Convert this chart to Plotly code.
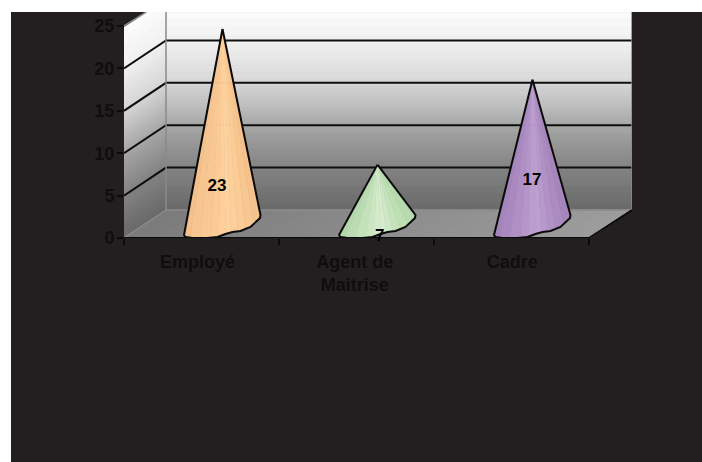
import plotly.graph_objects as go

# ---- data ----
categories = ["Employé", "Agent de<br>Maitrise", "Cadre"]
values = [23, 7, 17]
label_x = [0.1, 1.15, 2.132]
label_heights = [6.1, 0.12, 6.7]
y_ticks = [0, 5, 10, 15, 20, 25]

# ---- style ----
W, H = 702, 462
L, R, T, B = 124, 632, 12, 238          # plot box in pixels
PX_PER_V = 8.48
PX_PER_CAT = 155.0
DX, DY = 42, 28                         # 3-D depth of the back wall in px
BG = "#231f20"
INK = "#0f0d0e"
FONT = "Liberation Sans, Arial, sans-serif"
CAT_TICK_POS = [0, 1.015, 2.03]

cone_shades = [
    ["#f0bb86", "#f4c08b", "#f7c590", "#f9c892", "#fbcb95", "#fdcf9a", "#fed29e", "#fdd09b", "#fbcc96", "#f8c791", "#f5c28c", "#f2be88"],
    ["#aed4a6", "#b4d9ac", "#bbdcb2", "#c3e1ba", "#cce6c2", "#d4eaca", "#d5ebcb", "#cee7c4", "#c6e2bc", "#bedeb4", "#b7dbae", "#b0d6a8"],
    ["#a07fb6", "#a584bb", "#aa89c0", "#af8fc4", "#b596c9", "#bb9dce", "#bd9fd0", "#b899cc", "#b192c6", "#ab8bc1", "#a685bc", "#a180b7"],
]
# outline of a cone's foot in px relative to its centre (right = +, down = +)
foot_dx = [-38.5, -37, -30, -15, -5, 3, 10, 18, 28, 37.5, 38]
foot_dy = [11, 13, 14, 14, 13, 10, 8, 7, 3, -6, -9]

x_min = -0.5
x_max = x_min + (R - L) / PX_PER_CAT
y_max = (B - T) / PX_PER_V
depth_x = DX / PX_PER_CAT
depth_y = DY / PX_PER_V


def gray(v):
    stops = [(0, 0x6a), (5, 0x84), (10, 0xa8), (15, 0xd8), (20, 0xf2), (25, 0xff), (30, 0xff)]
    for (a, ca), (b, cb) in zip(stops, stops[1:]):
        if a <= v <= b:
            c = round(ca + (cb - ca) * (v - a) / (b - a))
            return f"rgb({c},{c},{c})"
    return "#ffffff"


shapes = [dict(type="rect", xref="paper", yref="paper", layer="below",
               x0=(11 - L) / (R - L), x1=(W - L) / (R - L),
               y0=(B - H) / (B - T), y1=(B - 12) / (B - T),
               fillcolor=BG, line_width=0)]

STEP = 0.25
n = int(25 / STEP)
for i in range(n):
    v0, v1 = i * STEP, (i + 1) * STEP
    col = gray(v0)
    # back wall
    shapes.append(dict(type="rect", layer="below", x0=x_min + depth_x, x1=x_max,
                       y0=v0 + depth_y, y1=v1 + depth_y, fillcolor=col,
                       line=dict(color=col, width=1)))
    # side wall
    xa, xb = x_min, x_min + depth_x
    shapes.append(dict(type="path", layer="below",
                       path=f"M{xa},{v0} L{xb},{v0 + depth_y} L{xb},{v1 + depth_y} L{xa},{v1} Z",
                       fillcolor=col, line=dict(color=col, width=1)))
# floor: lighter towards the right
front_w = (R - L - DX) / PX_PER_CAT
slices = 30
for i in range(slices):
    x0 = x_min + front_w * i / slices
    x1 = x_min + front_w * (i + 1) / slices
    c = round(0x7c + (0x9c - 0x7c) * i / (slices - 1))
    col = f"rgb({c},{c},{c})"
    shapes.append(dict(type="path", layer="below",
                       path=f"M{x0},0 L{x1},0 L{x1 + depth_x},{depth_y} L{x0 + depth_x},{depth_y} Z",
                       fillcolor=col, line=dict(color=col, width=1)))

fig = go.Figure()

# grid lines
gx, gy = [], []
for v in y_ticks[1:]:
    gx += [x_min, x_min + depth_x, x_max, None]
    gy += [v, v + depth_y, v + depth_y, None]
fig.add_trace(go.Scatter(x=gx, y=gy, mode="lines", line=dict(color="#0e0e0e", width=2), hoverinfo="skip"))

# wall edges
fig.add_trace(go.Scatter(
    x=[x_min, x_min + depth_x, x_max, x_max, None, x_min + depth_x, x_min + depth_x, None, x_min, x_min + 22 / PX_PER_CAT],
    y=[0, depth_y, depth_y, y_max, None, depth_y, y_max, None, 25, 25 + 14 / PX_PER_V],
    mode="lines", line=dict(color="#8a8a8a", width=1.5), hoverinfo="skip"))
# front floor edge
fig.add_trace(go.Scatter(
    x=[x_min, 2.5, x_max], y=[0, 0, depth_y], mode="lines",
    line=dict(color="#0a0a0a", width=2), hoverinfo="skip"))

# cones
mid_x, mid_y = depth_x / 2, depth_y / 2
for i, v in enumerate(values):
    cx = i + mid_x
    apex_y = v + mid_y
    fx = [cx + d / PX_PER_CAT for d in foot_dx]
    fy = [mid_y - d / PX_PER_V for d in foot_dy]
    sx, sy = [], []
    m = 12
    for k in range(m + 1):
        t = k / m * (len(fx) - 1)
        j = min(int(t), len(fx) - 2)
        f = t - j
        sx.append(fx[j] + (fx[j + 1] - fx[j]) * f)
        sy.append(fy[j] + (fy[j + 1] - fy[j]) * f)
    for k in range(m):
        fig.add_trace(go.Scatter(
            x=[cx, sx[k], sx[k + 1], cx], y=[apex_y, sy[k], sy[k + 1], apex_y],
            mode="lines", fill="toself", fillcolor=cone_shades[i][k],
            line=dict(color=cone_shades[i][k], width=0.5), hoverinfo="skip"))
    fig.add_trace(go.Scatter(
        x=[cx] + fx + [cx], y=[apex_y] + fy + [apex_y], mode="lines",
        line=dict(color="#0a0a0a", width=2), hoverinfo="skip"))

# value labels
fig.add_trace(go.Scatter(
    x=label_x, y=label_heights, mode="text", cliponaxis=False,
    text=[str(v) for v in values], textposition="middle center",
    textfont=dict(family=FONT, size=17, color="#000000", weight="bold"),
    hoverinfo="skip"))

fig.update_layout(
    width=W, height=H, showlegend=False, autosize=False,
    paper_bgcolor="#ffffff", plot_bgcolor="rgba(0,0,0,0)",
    margin=dict(l=L, r=W - R, t=T, b=H - B, pad=0),
    shapes=shapes,
    xaxis=dict(type="linear", range=[x_min, x_max], showgrid=False, zeroline=False, showline=False,
               tickmode="array", tickvals=CAT_TICK_POS, ticktext=categories, ticks="",
               ticklabelshift=-4, ticklabelstandoff=11,
               tickfont=dict(family=FONT, size=18, color=INK, weight="bold"),
               minor=dict(tickmode="array", tickvals=[-0.5, 0.5, 1.5, 2.5], ticks="outside",
                          ticklen=6, tickwidth=1.5, tickcolor="#0a0a0a", showgrid=False)),
    yaxis=dict(range=[0, y_max], showgrid=False, zeroline=False, showline=False,
               tickmode="array", tickvals=y_ticks, ticks="outside", ticklen=6, tickwidth=1.5,
               tickcolor="#0a0a0a", ticklabelstandoff=-1,
               tickfont=dict(family=FONT, size=18, color=INK, weight="bold")),
)

fig.write_html("out.html", config={"displayModeBar": False}, post_script="document.body.style.margin='0';")
